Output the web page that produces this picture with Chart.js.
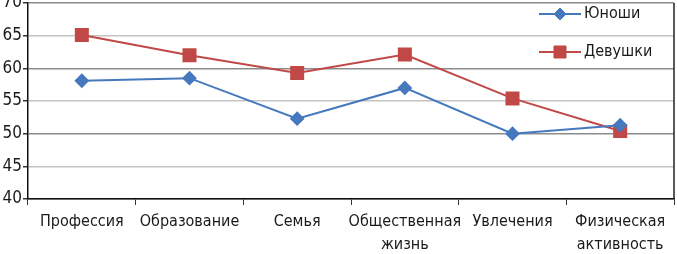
<!DOCTYPE html>
<html>
<head>
<meta charset="utf-8">
<script src="https://cdn.jsdelivr.net/npm/chart.js@4.4.1/dist/chart.umd.min.js"></script>
<style>
  html, body { margin: 0; padding: 0; background: #fff; }
  #wrap { width: 677px; height: 254px; position: relative; }
</style>
</head>
<body>
<div id="wrap"><canvas id="chart"></canvas></div>
<script>
// data
const categories = ['Профессия', 'Образование', 'Семья', ['Общественная', 'жизнь'], 'Увлечения', ['Физическая', 'активность']];
const boysValues = [58.1, 58.5, 52.3, 57.0, 50.0, 51.3];
const girlsValues = [65.1, 62.0, 59.3, 62.1, 55.4, 50.4];
const yTicks = [40, 45, 50, 55, 60, 65, 70];

const FONT = "'DejaVu Sans Condensed', 'Liberation Sans Narrow', sans-serif";
const BLUE = 'rgb(70, 120, 190)';
const RED = 'rgb(192, 72, 70)';

// legend sits inside the plot, top right, and the plot has a right frame line
const insideLegend = {
  id: 'insideLegend',
  afterDraw(chart) {
    const ctx = chart.ctx;
    const right = chart.chartArea.right;
    ctx.save();
    chart.data.datasets.forEach((ds, i) => {
      const y = 14 + i * 38;
      const x0 = right - 135;
      ctx.strokeStyle = ds.borderColor;
      ctx.lineWidth = 2;
      ctx.beginPath();
      ctx.moveTo(x0, y);
      ctx.lineTo(x0 + 42, y);
      ctx.stroke();
      ctx.fillStyle = ds.pointBackgroundColor;
      ctx.strokeStyle = ds.pointBorderColor;
      ctx.lineWidth = 1;
      Chart.helpers.drawPoint(ctx, { pointStyle: ds.pointStyle, radius: ds.pointRadius, borderWidth: 1 }, x0 + 21, y);
      ctx.fillStyle = '#1a1a1a';
      ctx.font = '16px ' + FONT;
      ctx.textBaseline = 'middle';
      ctx.fillText(ds.label, x0 + 45, y);
    });
    ctx.strokeStyle = '#222';
    ctx.lineWidth = 1.5;
    ctx.beginPath();
    ctx.moveTo(right, chart.chartArea.top);
    ctx.lineTo(right, chart.chartArea.bottom);
    ctx.stroke();
    ctx.restore();
  }
};

const ctx = document.getElementById('chart').getContext('2d');
new Chart(ctx, {
  type: 'line',
  data: {
    labels: categories,
    datasets: [
      {
        label: 'Юноши',
        data: boysValues,
        borderColor: BLUE,
        backgroundColor: BLUE,
        pointBackgroundColor: BLUE,
        pointBorderColor: BLUE,
        pointStyle: 'rectRot',
        pointRadius: 6,
        borderWidth: 2,
        tension: 0
      },
      {
        label: 'Девушки',
        data: girlsValues,
        borderColor: RED,
        backgroundColor: RED,
        pointBackgroundColor: RED,
        pointBorderColor: RED,
        pointStyle: 'rect',
        pointRadius: 8.5,
        borderWidth: 2,
        tension: 0
      }
    ]
  },
  options: {
    responsive: true,
    maintainAspectRatio: false,
    animation: false,
    layout: { autoPadding: false, padding: { top: 3, right: 3, left: 0, bottom: 0 } },
    plugins: {
      legend: { display: false },
      tooltip: { enabled: false }
    },
    scales: {
      x: {
        offset: true,
        grid: {
          offset: true,
          drawOnChartArea: false,
          tickLength: 6,
          tickColor: '#333'
        },
        border: { color: '#111', width: 1.5 },
        ticks: {
          color: '#1a1a1a',
          font: { family: FONT, size: 16, lineHeight: 1.4 },
          maxRotation: 0,
          autoSkip: false,
          padding: 6
        },
        afterFit(scale) {
          scale.height = 55;
          scale.paddingLeft = 0;
          scale.paddingRight = 0;
        }
      },
      y: {
        min: 40,
        max: 70,
        afterBuildTicks(scale) {
          scale.ticks = yTicks.map(v => ({ value: v }));
        },
        grid: {
          color: c => (c.tick && c.tick.value % 10 === 0) ? '#8c8c8c' : '#c4c4c4',
          lineWidth: 1.5,
          tickLength: 5,
          tickColor: '#333'
        },
        border: { color: '#111', width: 1.5 },
        ticks: {
          color: '#1a1a1a',
          font: { family: FONT, size: 17 },
          padding: 1
        },
        afterFit(scale) {
          scale.width = 28;
          scale.paddingTop = 0;
          scale.paddingBottom = 0;
        }
      }
    }
  },
  plugins: [insideLegend]
});
</script>
</body>
</html>
